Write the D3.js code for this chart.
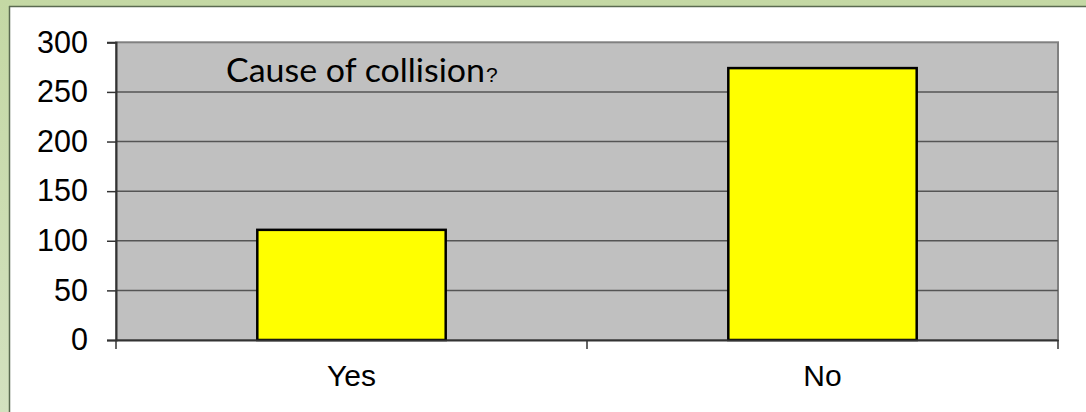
<!DOCTYPE html>
<html><head><meta charset="utf-8">
<script src="https://cdn.jsdelivr.net/npm/d3@7"></script>
<style>html,body{margin:0;padding:0;background:#fff;}svg{display:block;}</style>
</head><body>
<script>
const categories = ["Yes", "No"];
const values = [111, 274];
const yTicks = [0, 50, 100, 150, 200, 250, 300];
const titleText = "Cause of collision";
const titleMark = "?";

(function(){
const W = 1086, H = 412;
const svg = d3.select("body").append("svg").attr("width", W).attr("height", H);
const defs = svg.append("defs");
const g1 = defs.append("linearGradient").attr("id","bg").attr("x1",0).attr("y1",0).attr("x2",0).attr("y2",1);
g1.append("stop").attr("offset","0%").attr("stop-color","#c4d8a4");
g1.append("stop").attr("offset","100%").attr("stop-color","#d3e1bf");
svg.append("rect").attr("width",W).attr("height",H).attr("fill","url(#bg)");
// white panel
svg.append("rect").attr("x",9).attr("y",6).attr("width",W-9).attr("height",H-6).attr("fill","#fff");
svg.append("line").attr("x1",9).attr("x2",W).attr("y1",6.5).attr("y2",6.5).attr("stroke","#5a6a50").attr("stroke-width",1.5);
svg.append("line").attr("x1",9.5).attr("x2",9.5).attr("y1",6).attr("y2",H).attr("stroke","#5a6a50").attr("stroke-width",1.5);

const pl = 116, pr = 1058, pt = 42.3, pb = 340;
const x = d3.scaleBand().domain(categories).range([pl, pr]).paddingInner(0.6).paddingOuter(0.3);
const y = d3.scaleLinear().domain([0, 300]).range([pb, pt]);

// plot area
svg.append("rect").attr("x",pl).attr("y",pt).attr("width",pr-pl).attr("height",pb-pt)
  .attr("fill","#c0c0c0").attr("stroke","#808080").attr("stroke-width",2);

// gridlines
svg.append("g").selectAll("line").data(yTicks.filter(d=>d>0 && d<300)).join("line")
  .attr("x1",pl).attr("x2",pr).attr("y1",d=>y(d)).attr("y2",d=>y(d))
  .attr("stroke","#555").attr("stroke-width",1.5);

// bars
svg.append("g").selectAll("rect").data(values).join("rect")
  .attr("x",(d,i)=>x(categories[i])).attr("width",x.bandwidth())
  .attr("y",d=>y(d)).attr("height",d=>y(0)-y(d))
  .attr("fill","#ffff00").attr("stroke","#000").attr("stroke-width",2.5);

// y axis
const yAxis = svg.append("g").attr("transform",`translate(${pl},0)`)
  .call(d3.axisLeft(y).tickValues(yTicks).tickSize(9).tickPadding(19));
yAxis.select(".domain").attr("stroke","#333").attr("stroke-width",2);
yAxis.selectAll(".tick line").attr("stroke","#333").attr("stroke-width",1.5);
yAxis.selectAll("text").attr("font-family","Liberation Sans, Arial, sans-serif").attr("font-size",30.5).attr("fill","#000");

// x axis
const xAxis = svg.append("g").attr("transform",`translate(0,${pb})`)
  .call(d3.axisBottom(x).tickSize(0).tickPadding(25));
xAxis.select(".domain").attr("stroke","#333").attr("stroke-width",2);
xAxis.selectAll("text").attr("font-family","Liberation Sans, Arial, sans-serif").attr("font-size",30).attr("fill","#000");
// category boundary ticks
const bounds = [pl, (pl+pr)/2, pr];
svg.append("g").selectAll("line").data(bounds).join("line")
  .attr("x1",d=>d).attr("x2",d=>d).attr("y1",pb).attr("y2",pb+9)
  .attr("stroke","#333").attr("stroke-width",1.5);

// title
const t = svg.append("text").attr("x",226).attr("y",82).attr("fill","#000")
  .attr("font-family","Lato, 'Open Sans', sans-serif").attr("font-size",32);
t.append("tspan").text(titleText).attr("textLength",259).attr("lengthAdjust","spacingAndGlyphs");
t.append("tspan").text(titleMark).attr("font-family","Liberation Sans, Arial, sans-serif").attr("font-size",21).attr("dx",1);
})();
</script>
</body></html>
